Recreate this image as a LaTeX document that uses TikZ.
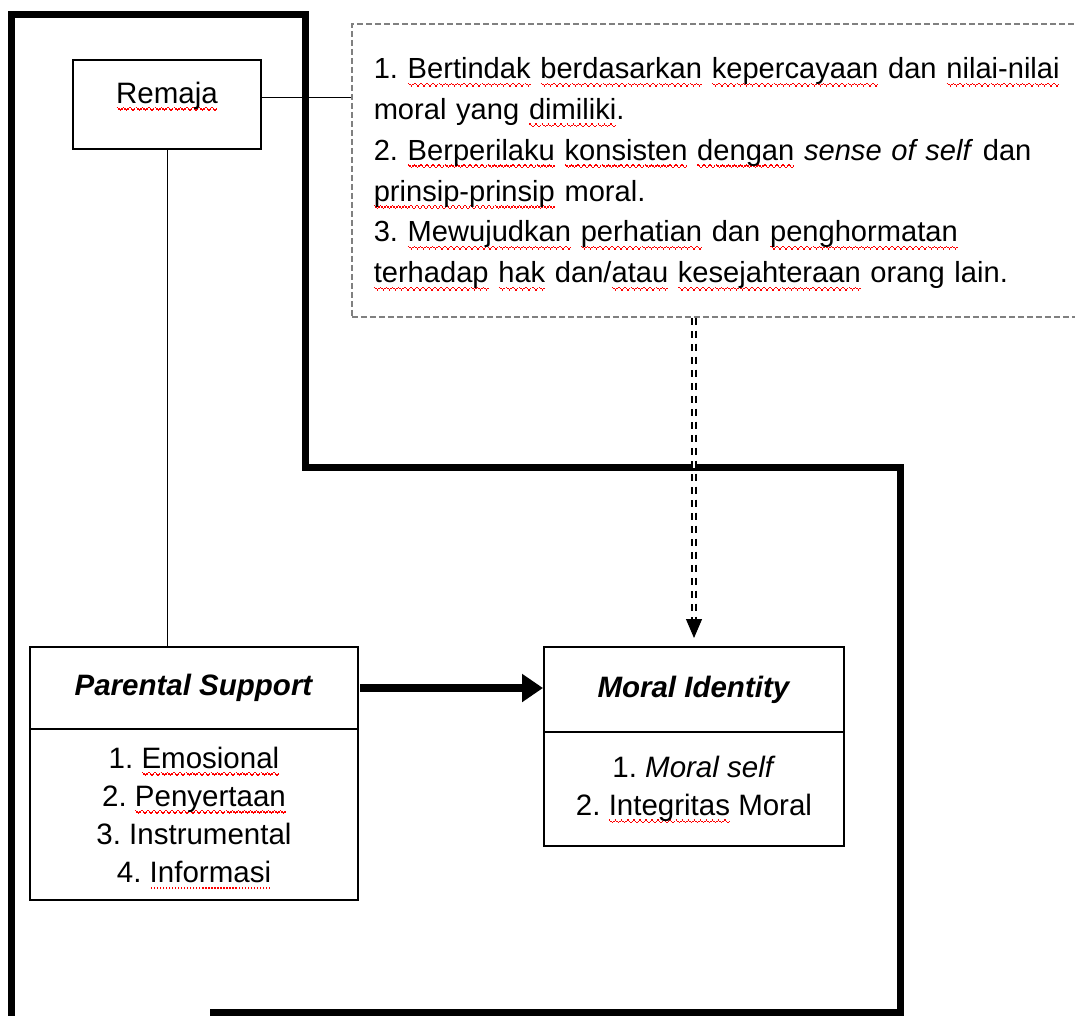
\documentclass[tikz,border=0pt]{standalone}
\usepackage{fontspec}
\setmainfont{Liberation Sans}
\usetikzlibrary{positioning}
\usetikzlibrary{arrows.meta}
\newsavebox\wavebox
\newsavebox\dotbox
\sbox\wavebox{\color{red}\rule[1.3pt]{1.5pt}{1.4pt}\rule[0pt]{1.5pt}{1.4pt}\rule[-1.3pt]{1.5pt}{1.4pt}\rule[0pt]{1.5pt}{1.4pt}}
\sbox\dotbox{\color{red}\kern0.8pt\rule[0pt]{1.4pt}{1.4pt}\kern0.8pt}
\newcommand\sq[1]{\leavevmode\setbox0=\hbox{#1}\rlap{\smash{\lower6.5pt\hbox to\wd0{\xleaders\copy\wavebox\hfil}}}\box0\relax}
\newcommand\dt[1]{\leavevmode\setbox0=\hbox{#1}\rlap{\smash{\lower6.5pt\hbox to\wd0{\xleaders\copy\dotbox\hfil}}}\box0\relax}

\tikzset{
  wall/.style={line width=7pt},
  pbox/.style={draw, line width=2.2pt, inner sep=0pt, outer sep=0pt, align=center},
  notebox/.style={draw=gray, line width=1.5pt, dash pattern=on 6pt off 3pt, inner xsep=22pt, inner ysep=0pt, align=left},
  thinline/.style={line width=1pt},
  dblline/.style={dash pattern=on 7pt off 6pt, double, double distance=1.6pt, line width=1.8pt}
}

\begin{document}
\frenchspacing
\begin{tikzpicture}[x=1pt,y=-1pt,font=\fontsize{29.5}{38}\selectfont]
\clip (0,0) rectangle (1075,1015);
% outer frame
\draw[wall] (11.5,1020)--(11.5,14)--(305,14)--(305,467)--(900,467)--(900,1012)--(210,1012);

\node[pbox, line width=2pt, minimum width=188pt, text height=43pt, text depth=46pt, anchor=north] (rem) at (167,60) {\sq{Remaja}};

\node[notebox, minimum height=293pt, text width=760pt, anchor=north west, font=\fontsize{29.1}{40.8}\selectfont] (info) at (351,23)
 {\rule{0pt}{27pt}1. \sq{Bertindak} \sq{berdasarkan} \sq{kepercayaan} dan \sq{nilai-nilai}\\
  moral yang \sq{dimiliki}.\\
  2. \sq{Berperilaku} \sq{konsisten} \sq{dengan} \textit{sense of self} dan\\
  \sq{prinsip-prinsip} moral.\\
  3. \sq{Mewujudkan} \sq{perhatian} dan \sq{penghormatan}\\
  \sq{terhadap} \sq{hak} dan/\sq{atau} \sq{kesejahteraan} orang lain.};

% variables
\node[pbox, minimum width=328pt, minimum height=82pt, anchor=north] (ps) at (194,647) {\textbf{\textit{Parental Support}}};
\node[pbox, minimum width=328pt, minimum height=171pt, below=0pt of ps] (psl)
 {1. \sq{Emosional}\\2. \sq{Penyertaan}\\3. Instrumental\\4. \dt{Informasi}};
\node[pbox, minimum width=300pt, minimum height=85pt, anchor=north] (mi) at (694,647) {\textbf{\textit{Moral Identity}}};
\node[pbox, minimum width=300pt, minimum height=114pt, below=0pt of mi] (mil)
 {1. \textit{Moral self}\\2. \sq{Integritas} Moral};

% connectors
\coordinate (rj) at ([yshift=7.5pt]rem.east);
\draw[thinline] (rj) -- (rj -| info.west);
\draw[thinline] (rem.south) -- (rem.south |- ps.north);
\draw[line width=8pt, -{Triangle[length=21pt,width=27pt]}] ([xshift=2pt]ps.east) -- ([xshift=-1pt]ps.east -| mi.west);
\draw[dblline] (info.south -| mi.north) -- ([yshift=27pt]mi.north);
\draw[line width=1pt, -{Triangle[length=19pt,width=16pt]}] ([yshift=28pt]mi.north) -- ([yshift=9pt]mi.north);
\end{tikzpicture}
\end{document}
